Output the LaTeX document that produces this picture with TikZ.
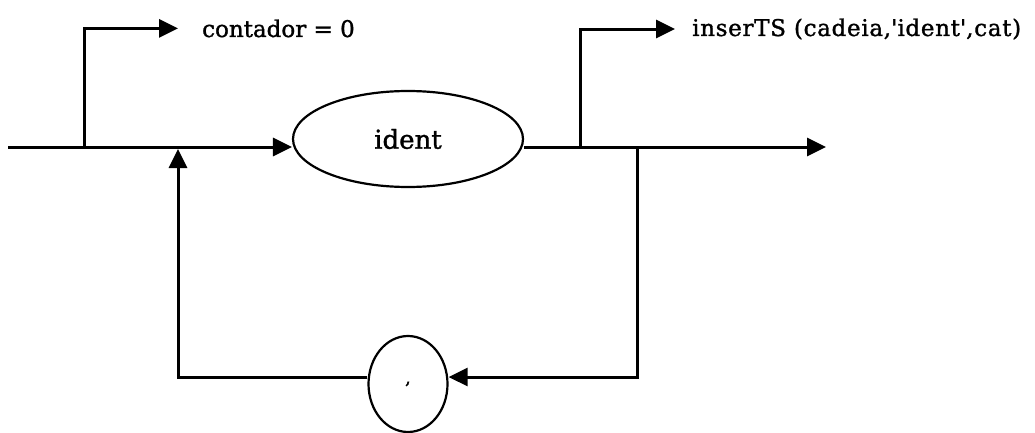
\documentclass[tikz,border=0pt]{standalone}
\usepackage{fontspec}
\setmainfont[FakeBold=1.3]{DejaVu Serif}
\usepackage{tikz}
\usetikzlibrary{arrows.meta,positioning,shapes.geometric}

\begin{document}
\begin{tikzpicture}[
  x=1pt,y=-1pt,
  term/.style={draw,ellipse,inner sep=0pt,line width=2.2pt},
  action/.style={inner sep=0pt,anchor=base west,font=\fontsize{23}{26}\selectfont},
  flow/.style={-{Triangle[length=19pt,width=18pt]},line width=3pt},
  rail/.style={line width=3pt}
]
\useasboundingbox (0,0) rectangle (1035,433);
% terminal symbols
\node[term,minimum width=230pt,minimum height=96pt,font=\fontsize{26}{30}\selectfont] (ident) at (408,139) {ident};
\node[term,minimum width=79pt,minimum height=96pt,font=\fontsize{18}{20}\selectfont] (comma) at (408,384) {,};
% semantic actions
\node[action] (contador) at (202,37) {contador = 0};
\node[action,font=\addfontfeature{LetterSpace=3}\fontsize{23}{26}\selectfont] (insere) at (692,36)
  {inserTS (cadeia,\textquotesingle ident\textquotesingle,cat)};
% rail points
\coordinate (start) at (8,147);
\coordinate (split-a) at (84,147);
\coordinate (split-b) at (580,147);
\coordinate (split-c) at (637,147);
\coordinate (join) at (178,149);
\coordinate (end) at (826,147);
\coordinate (loop) at (0,377);
\draw[rail] (start) -- (split-a);
\draw[flow] (split-a) -- (ident.west |- start);
\draw[flow] (split-a) |- ([xshift=-24pt]contador.west);
\draw[flow] (ident.east |- start) -- (end);
\draw[flow] (split-b) |- ([xshift=-17pt]insere.west);
\draw[flow] (split-c) |- (comma.east |- loop);
\draw[flow] (comma.west |- loop) -| (join);
\end{tikzpicture}
\end{document}
